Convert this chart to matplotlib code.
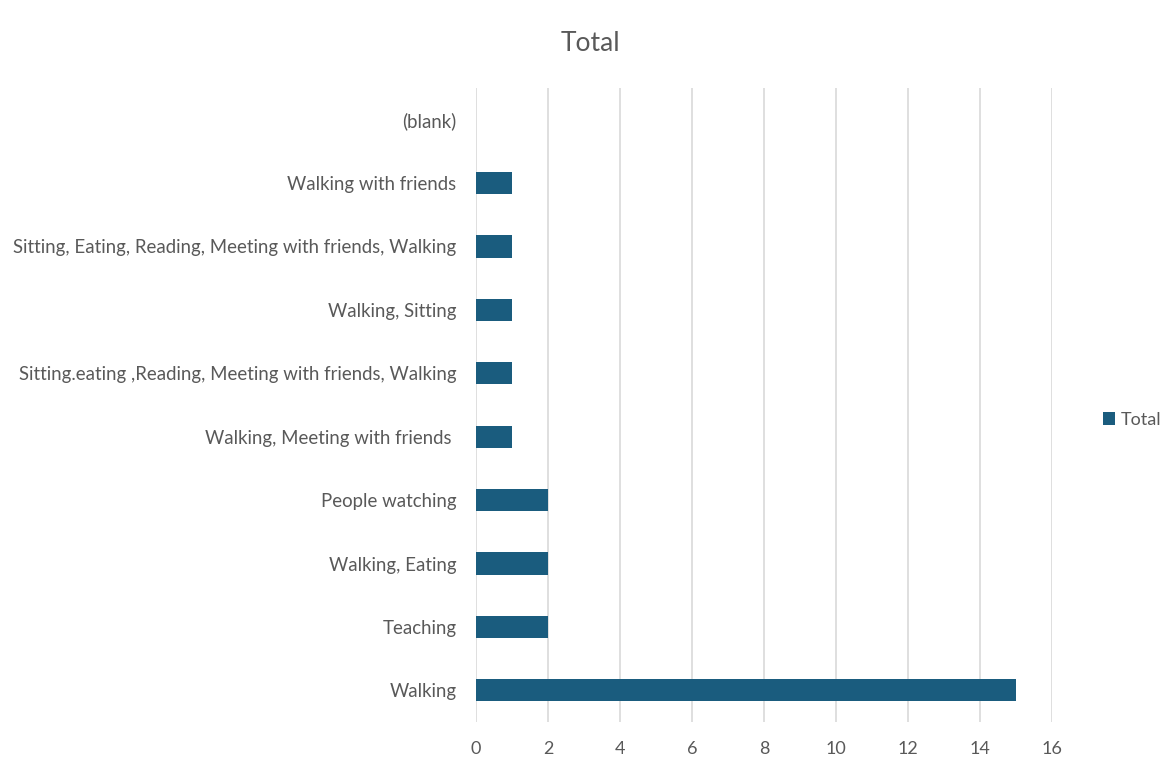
import matplotlib
matplotlib.use("Agg")
import matplotlib.pyplot as plt

# Data (bottom to top)
categories = [
    "Walking",
    "Teaching",
    "Walking, Eating",
    "People watching",
    "Walking, Meeting with friends ",
    "Sitting.eating ,Reading, Meeting with friends, Walking",
    "Walking, Sitting",
    "Sitting, Eating, Reading, Meeting with friends, Walking",
    "Walking with friends",
    "(blank)",
]
totals = [15, 2, 2, 2, 1, 1, 1, 1, 1, 0]
x_ticks = [0, 2, 4, 6, 8, 10, 12, 14, 16]

plt.rcParams['font.family'] = ['Lato', 'DejaVu Sans']
text_col = '#595959'

fig = plt.figure(figsize=(11.62, 7.57), dpi=100)
ax = fig.add_axes([0.4096, 0.0462, 0.4957, 0.8376])

ax.barh(range(len(categories)), totals, height=0.35, color='#1a5c7e', label='Total', zorder=3)

ax.set_xlim(0, 16)
ax.set_ylim(-0.5, len(categories) - 0.5)
ax.set_xticks(x_ticks)
ax.set_yticks(range(len(categories)))
ax.set_yticklabels(categories, fontsize=13.4)
ax.grid(axis='x', color='#d9d9d9', linewidth=1.2, zorder=0)
for s in ax.spines.values():
    s.set_visible(False)
ax.tick_params(axis='both', length=0, colors=text_col)
ax.tick_params(axis='x', pad=14, labelsize=13)
ax.tick_params(axis='y', pad=14)

fig.text(0.508, 0.943, "Total", ha='center', va='center', fontsize=19, color=text_col)

fig.legend(loc='center left', bbox_to_anchor=(0.935, 0.445), frameon=False,
           fontsize=13, handlelength=0.7, handleheight=0.7, handletextpad=0.3,
           labelcolor=text_col)

fig.savefig("out.png", dpi=100, facecolor='white')
